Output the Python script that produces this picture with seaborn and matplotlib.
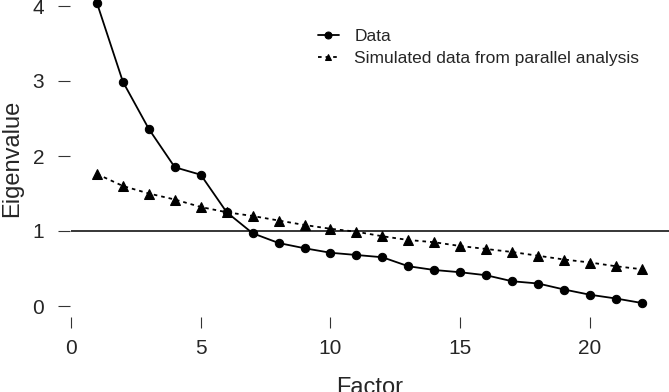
import numpy as np
import pandas as pd
import seaborn as sns
import matplotlib.pyplot as plt
plt.switch_backend('agg')

# ---------------- data ----------------
factor = list(range(1, 23))
eig_data = [4.04, 2.99, 2.36, 1.85, 1.75, 1.25, 0.97, 0.84, 0.77, 0.71, 0.68,
            0.65, 0.53, 0.48, 0.45, 0.41, 0.33, 0.30, 0.22, 0.15, 0.10, 0.04]
eig_sim = [1.76, 1.60, 1.50, 1.42, 1.32, 1.25, 1.20, 1.14, 1.08, 1.03, 0.99,
           0.93, 0.88, 0.85, 0.80, 0.76, 0.72, 0.67, 0.62, 0.58, 0.53, 0.49]
x_ticks = [0, 5, 10, 15, 20]
y_ticks = [0, 1, 2, 3, 4]

sns.set_style('white')
plt.rcParams['font.family'] = ['Liberation Sans', 'DejaVu Sans']

fig = plt.figure(figsize=(6.69, 3.92), dpi=100)
W, H = 669, 392
ax = fig.add_axes([70 / W, 1 - 317 / H, (669 - 70) / W, 317 / H])

df = pd.DataFrame({'Factor': factor, 'Data': eig_data, 'Sim': eig_sim})

sns.lineplot(data=df, x='Factor', y='Data', ax=ax, color='black', lw=1.3,
             marker='o', markersize=6, markeredgecolor='black', clip_on=False,
             label='Data')
sns.lineplot(data=df, x='Factor', y='Sim', ax=ax, color='black', lw=1.3,
             marker='^', markersize=7, markeredgecolor='black', clip_on=False,
             dashes=False, linestyle=(0, (2, 2.2)),
             label='Simulated data from parallel analysis')

ax.set_xlim(-1 / 25.95, 598 / 25.95)
ax.set_ylim(-11 / 75, 317 / 75 - 11 / 75)
ax.hlines(1, 0, 598 / 25.95, color='black', lw=1.1)

for s in ax.spines.values():
    s.set_visible(False)
ax.set_xticks(x_ticks)
ax.set_yticks(y_ticks)
ax.tick_params(axis='x', direction='out', length=8, width=0.8, pad=7.5,
               labelsize=15, bottom=True, color='#333333')
ax.tick_params(axis='y', direction='out', length=8.5, width=0.8, pad=10,
               labelsize=15, left=True, color='#333333')
ax.set_xlabel('Factor', fontsize=17, labelpad=14)
ax.set_ylabel('Eigenvalue', fontsize=17, labelpad=7)

leg = ax.legend(loc='upper left', bbox_to_anchor=(239 / 599, 1 - 20 / 317),
                frameon=False, fontsize=12.5, handlelength=1.2,
                handletextpad=0.9, labelspacing=0.4, borderpad=0)
for h in leg.legend_handles:
    h.set_markersize(5)

fig.savefig('out.png', dpi=100)
